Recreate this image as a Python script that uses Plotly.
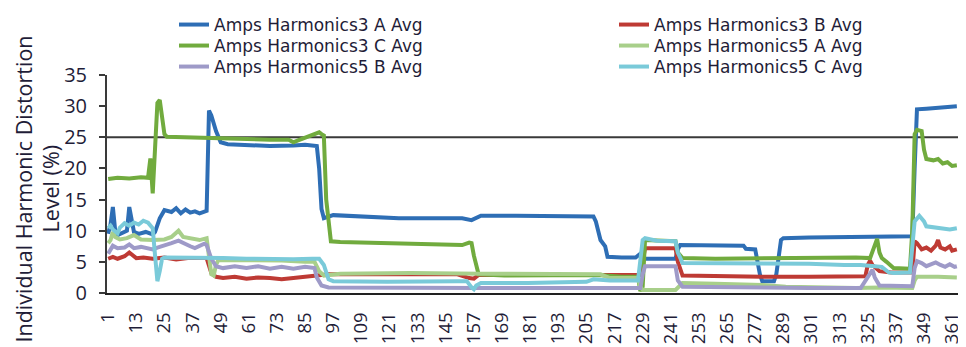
import plotly.graph_objects as go

# ---------------- data ----------------
TICK_LABELS = [1, 13, 25, 37, 49, 61, 73, 85, 97, 109, 121, 133, 145, 157, 169, 181,
               193, 205, 217, 229, 241, 253, 265, 277, 289, 301, 313, 325, 337, 349, 361]
THRESHOLD = 25
Y_TITLE_LINES = ["Individual Harmonic Distortion", "Level (%)"]

SERIES_NAMES = ["Amps Harmonics3 A Avg", "Amps Harmonics3 B Avg", "Amps Harmonics3 C Avg",
                "Amps Harmonics5 A Avg", "Amps Harmonics5 B Avg", "Amps Harmonics5 C Avg"]

H3A_X = [1, 2, 3, 4, 5, 7, 9, 10, 11, 12, 14, 17, 20, 21, 23, 25, 28, 30, 32, 34, 36, 38, 40, 43,
         44, 45, 47, 49, 52, 60, 70, 80, 85, 90, 91, 92, 93, 97, 110, 125, 140, 152, 156, 160,
         175, 190, 208, 209, 211, 213, 214, 220, 226, 228, 229, 230, 243, 244, 245, 260, 272,
         273, 277, 279, 280, 285, 286, 288, 289, 300, 320, 344, 345, 346, 350, 355, 360, 363]
H3A_Y = [9.5, 11.0, 13.8, 10.0, 9.3, 9.6, 10.0, 13.8, 12.0, 9.8, 9.5, 9.8, 9.4, 9.8, 12.0, 13.3,
         13.0, 13.6, 12.8, 13.4, 12.9, 13.1, 12.8, 13.2, 29.3, 28.5, 26.0, 24.2, 23.9, 23.7, 23.6,
         23.7, 23.8, 23.6, 20.0, 13.5, 12.0, 12.5, 12.2, 12.0, 12.0, 12.0, 11.7, 12.4, 12.4, 12.3,
         12.3, 11.5, 8.5, 7.5, 5.8, 5.7, 5.7, 6.3, 5.8, 5.5, 5.5, 7.0, 7.7, 7.6, 7.6, 7.1, 7.0,
         3.0, 1.9, 1.9, 3.0, 8.5, 8.8, 8.9, 9.0, 9.1, 20.0, 29.5, 29.6, 29.7, 29.9, 30.0]

H3B_X = [1, 3, 5, 8, 10, 11, 13, 16, 20, 25, 30, 35, 40, 43, 45, 47, 50, 55, 60, 65, 70, 75, 80,
         85, 88, 90, 95, 120, 150, 155, 157, 159, 200, 215, 228, 229, 230, 243, 244, 246, 260,
         280, 300, 324, 325, 326, 327, 330, 335, 344, 345, 346, 348, 350, 352, 354, 355, 356,
         358, 360, 361, 363]
H3B_Y = [5.5, 5.8, 5.5, 5.9, 6.5, 6.2, 5.6, 5.7, 5.5, 5.7, 5.4, 5.6, 5.5, 5.6, 3.2, 2.6, 2.4, 2.6,
         2.3, 2.5, 2.4, 2.2, 2.4, 2.6, 2.8, 2.9, 3.0, 3.0, 3.0, 2.4, 2.3, 2.9, 3.0, 2.9, 2.9, 5.0,
         7.2, 7.2, 5.0, 2.8, 2.7, 2.6, 2.6, 2.7, 4.5, 5.2, 4.5, 3.5, 3.3, 3.3, 8.3, 8.0, 7.0, 7.3,
         6.8, 7.6, 8.5, 7.3, 7.0, 7.5, 6.8, 7.0]

H3C_X = [1, 5, 10, 15, 18, 19, 20, 21, 22, 23, 24, 25, 26, 35, 45, 50, 60, 70, 78, 80, 82, 86, 89,
         91, 92, 93, 94, 96, 100, 120, 140, 152, 155, 156, 157, 159, 170, 190, 210, 220, 227, 228,
         229, 230, 235, 243, 244, 246, 260, 280, 300, 320, 326, 328, 329, 330, 331, 333, 336, 343,
         344, 345, 346, 348, 349, 350, 353, 355, 357, 359, 361, 363]
H3C_Y = [18.3, 18.5, 18.4, 18.6, 18.5, 21.6, 16.0, 25.0, 30.5, 31.0, 28.5, 25.5, 25.1, 25.0, 24.9,
         24.7, 24.6, 24.6, 24.6, 24.2, 24.5, 25.1, 25.4, 25.8, 25.5, 25.3, 15.0, 8.3, 8.2, 8.0, 7.8,
         7.7, 8.1, 8.0, 6.0, 3.0, 2.8, 2.9, 2.9, 2.6, 2.6, 0.3, 1.0, 8.5, 8.4, 8.3, 6.5, 5.6, 5.5,
         5.6, 5.7, 5.7, 5.6, 7.5, 8.7, 6.5, 5.6, 5.0, 4.0, 3.9, 10.0, 25.5, 26.2, 26.0, 23.0, 21.5,
         21.3, 21.5, 20.8, 21.0, 20.4, 20.5]

H5A_X = [1, 2, 3, 4, 6, 9, 12, 15, 20, 25, 28, 31, 33, 36, 40, 43, 44, 45, 46, 47, 48, 55, 65, 75,
         85, 89, 91, 93, 100, 130, 160, 190, 211, 215, 227, 228, 229, 243, 245, 246, 260, 280, 290,
         320, 330, 344, 345, 346, 355, 363]
H5A_Y = [8.0, 8.5, 9.8, 9.0, 8.6, 8.8, 9.3, 8.6, 8.5, 8.6, 9.0, 10.0, 9.0, 8.8, 8.5, 8.8, 6.0, 3.0,
         2.8, 4.5, 5.3, 5.3, 5.2, 5.2, 5.0, 5.0, 3.5, 2.8, 3.1, 3.2, 3.1, 3.1, 3.0, 2.4, 2.4, 1.0,
         0.5, 0.5, 1.2, 1.6, 1.5, 1.3, 1.0, 0.8, 0.9, 0.8, 2.0, 2.6, 2.6, 2.5]

H5B_X = [1, 2, 3, 5, 8, 10, 12, 15, 18, 20, 22, 25, 28, 31, 33, 36, 38, 40, 42, 43, 45, 47, 50, 55,
         60, 65, 70, 75, 80, 85, 89, 90, 92, 95, 130, 160, 200, 228, 229, 230, 243, 244, 246, 280,
         300, 322, 325, 327, 328, 330, 344, 345, 346, 348, 350, 352, 354, 356, 358, 360, 362, 363]
H5B_Y = [6.3, 7.0, 7.6, 7.2, 7.3, 7.8, 7.2, 7.4, 7.2, 7.0, 7.3, 7.6, 8.0, 8.4, 8.0, 7.5, 7.2, 7.6,
         7.9, 7.7, 5.5, 4.3, 4.0, 4.3, 4.0, 4.3, 3.9, 4.2, 3.9, 4.2, 4.0, 2.5, 1.2, 0.9, 0.8, 0.8,
         0.8, 0.8, 3.0, 4.3, 4.3, 2.0, 1.0, 0.8, 0.8, 0.8, 2.5, 3.7, 2.5, 1.2, 1.1, 4.0, 5.1, 4.8,
         4.3, 4.6, 4.9, 4.5, 4.2, 4.6, 4.2, 4.3]

H5C_X = [1, 2, 3, 5, 6, 8, 10, 12, 14, 16, 18, 19, 20, 21, 22, 23, 24, 25, 30, 40, 50, 60, 70, 80,
         88, 91, 93, 95, 97, 120, 150, 154, 156, 157, 158, 160, 180, 205, 208, 215, 227, 228, 229,
         230, 235, 243, 244, 246, 260, 280, 300, 315, 322, 328, 331, 334, 336, 343, 344, 345, 347,
         349, 350, 355, 360, 363]
H5C_Y = [10.4, 10.8, 10.2, 9.6, 10.5, 11.2, 10.8, 11.3, 11.0, 11.6, 11.3, 10.8, 10.4, 6.0, 1.9,
         3.5, 5.5, 5.7, 5.7, 5.6, 5.6, 5.5, 5.4, 5.4, 5.5, 5.5, 4.5, 2.2, 1.9, 1.8, 1.9, 1.9, 0.9,
         0.6, 1.2, 1.6, 1.6, 1.8, 2.2, 2.0, 2.0, 5.0, 8.5, 8.8, 8.4, 8.3, 6.5, 4.8, 4.8, 4.8, 4.7,
         4.5, 4.5, 4.3, 4.2, 3.3, 3.2, 3.3, 7.0, 11.5, 12.4, 11.5, 10.7, 10.4, 10.2, 10.4]

COLORS = ["#2E6EB5", "#BE3A34", "#71AB3E", "#A8CF8A", "#9E9AC8", "#7ACAD9"]

# ---------------- figure ----------------
FONT = "Open Sans"
LEG_FONT = "DejaVu Sans"
TXT = "#1f1d38"
xs = [H3A_X, H3B_X, H3C_X, H5A_X, H5B_X, H5C_X]
ys = [H3A_Y, H3B_Y, H3C_Y, H5A_Y, H5B_Y, H5C_Y]

# The page body keeps its default 8px margin, so the figure is sized to fit
# the 966x347 window exactly from that offset.
W, H = 958, 339
ML, MR, MT, MB = 99, 8, 67, 54
pw, ph = W - ML - MR, H - MT - MB

# legend anchor positions (px in figure coords), row-major, two columns
leg_rows_px = [17, 17, 38, 38, 59, 59]
leg_cols_px = [166, 606, 166, 606, 166, 606]
# y-title line centres (px in figure coords)
title_x_px = [14.5, 41.5]
title_y_px = 181

fig = go.Figure()
layout_legends = {}
for k, (name, x, y, c) in enumerate(zip(SERIES_NAMES, xs, ys, COLORS)):
    lid = "legend" if k == 0 else f"legend{k+1}"
    fig.add_trace(go.Scatter(x=x, y=y, mode="lines", name=name, legend=lid,
                             line=dict(color=c, width=4)))
    layout_legends[lid] = dict(
        x=(leg_cols_px[k] - ML) / pw, y=(H - MB - leg_rows_px[k]) / ph,
        xanchor="left", yanchor="middle", bgcolor="rgba(0,0,0,0)",
        font=dict(family=LEG_FONT, size=17, color=TXT), borderwidth=0,
        itemwidth=30,
    )

fig.add_shape(type="line", xref="paper", x0=0, x1=1, yref="y", y0=THRESHOLD, y1=THRESHOLD,
              line=dict(color="#3a3a3a", width=2), layer="below")

for txt, tx in zip(Y_TITLE_LINES, title_x_px):
    fig.add_annotation(text=txt, textangle=-90, showarrow=False,
                       xref="paper", yref="paper",
                       x=(tx - ML) / pw, y=(H - MB - title_y_px) / ph,
                       xanchor="center", yanchor="middle",
                       font=dict(family=FONT, size=21.5, color=TXT))

fig.update_layout(
    width=W, height=H,
    margin=dict(l=ML, r=MR, t=MT, b=MB, pad=0, autoexpand=False),
    paper_bgcolor="white", plot_bgcolor="white",
    font=dict(family=FONT, color=TXT),
    showlegend=True,
    **layout_legends,
)
fig.update_xaxes(
    range=[0.5, 363.5], tickmode="array", tickvals=TICK_LABELS,
    ticktext=[str(t) for t in TICK_LABELS], tickangle=-90,
    tickfont=dict(family=FONT, size=18.5, color=TXT), ticklabelstandoff=10,
    showline=True, linecolor="#222222", linewidth=2, showgrid=False, zeroline=False,
    ticks="", automargin=False,
)
fig.update_yaxes(
    range=[0, 35], dtick=5, tick0=0,
    tickfont=dict(family=FONT, size=20, color=TXT), ticklabelstandoff=8,
    showline=True, linecolor="#3a3a3a", linewidth=2, showgrid=False, zeroline=False,
    ticks="outside", ticklen=6, tickwidth=2, tickcolor="#3a3a3a",
    automargin=False,
)

fig.write_html("out.html")
